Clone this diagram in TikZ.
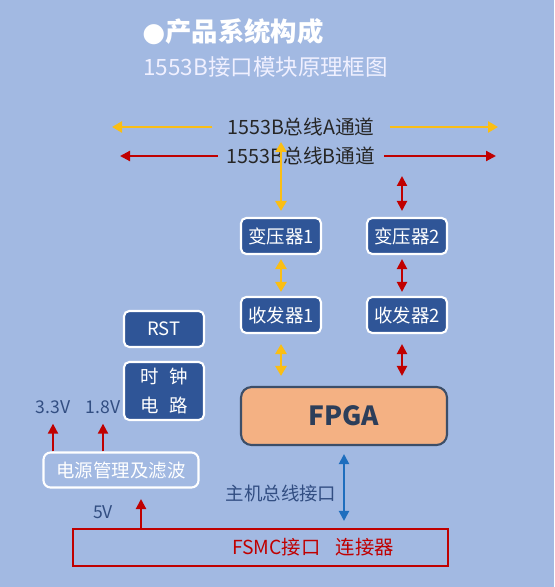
\documentclass[tikz,border=0pt]{standalone}
\usepackage{fontspec}
\setmainfont{Noto Sans CJK SC}
\newfontfamily\symfont{DejaVu Sans}
\usetikzlibrary{arrows.meta}
\definecolor{bgblue}{RGB}{162,185,226}
\definecolor{boxblue}{RGB}{47,85,151}
\definecolor{fpgafill}{RGB}{244,177,131}
\definecolor{fpgaline}{RGB}{60,78,104}
\definecolor{fpgatext}{RGB}{44,62,90}
\definecolor{labelblue}{RGB}{50,78,130}
\definecolor{busyellow}{RGB}{250,190,20}
\definecolor{busred}{RGB}{192,0,0}
\definecolor{hostblue}{RGB}{30,110,190}

\begin{document}
\begin{tikzpicture}[x=0.02cm,y=-0.02cm,
  blk/.style={draw=white,line width=1.2pt,fill=boxblue,rounded corners=3pt,text=white,
    font=\fontsize{10.5}{12}\selectfont,minimum width=1.6cm,minimum height=0.72cm,inner sep=1pt},
  lbl/.style={font=\fontsize{10}{12}\selectfont,text=labelblue,inner sep=1pt},
  bus/.style={font=\fontsize{11.2}{14}\selectfont,text=black!85,inner sep=0pt},
  yarr/.style={busyellow,line width=1.6pt,arrows={-Triangle[length=0.2cm,width=0.22cm]}},
  yarrs/.style={busyellow,line width=1.6pt,arrows={Triangle[length=0.2cm,width=0.22cm]-Triangle[length=0.2cm,width=0.22cm]}},
  rarr/.style={busred,line width=1.2pt,arrows={-Triangle[length=0.2cm,width=0.2cm]}},
  rarrs/.style={busred,line width=1.2pt,arrows={Triangle[length=0.2cm,width=0.2cm]-Triangle[length=0.2cm,width=0.2cm]}}]
\fill[bgblue] (0,0) rectangle (554,587);

\node[anchor=west,text=white,inner sep=0pt,font=\fontsize{15}{18}\selectfont\bfseries] (title) at (142,32) {{\symfont ●}产品系统构成};
\node[anchor=west,text=white!94!blue,inner sep=0pt,font=\fontsize{12.8}{15}\selectfont] (subtitle) at (143,67) {1553B接口模块原理框图};

\node[bus,outer xsep=0.3cm] (busA) at (301,127) {1553B总线A通道};
\node[bus,outer xsep=0.18cm] (busB) at (301,156) {1553B总线B通道};
\coordinate (aL) at (112,127);
\coordinate (aR) at (498,127);
\coordinate (bL) at (120,156);
\coordinate (bR) at (496,156);
\draw[yarr] (busA.west) -- (aL);
\draw[yarr] (busA.east) -- (aR);
\draw[rarr] (busB.west) -- (bL);
\draw[rarr] (busB.east) -- (bR);

\node[blk] (tr1) at (281,236) {变压器1};
\node[blk] (tr2) at (407,236) {变压器2};
\node[blk] (rx1) at (281,315) {收发器1};
\node[blk] (rx2) at (407,315) {收发器2};

\coordinate (aT) at (281,142);
\coordinate (bT) at (402,176);
\draw[yarrs,shorten >=0.12cm] (aT) -- (tr1.north);
\draw[rarrs,shorten >=0.12cm] (bT) -- (bT |- tr2.north);
\draw[yarrs,shorten <=0.08cm,shorten >=0.08cm] (tr1.south) -- (rx1.north);
\draw[rarrs,shorten <=0.08cm,shorten >=0.08cm] (tr2.south -| bT) -- (rx2.north -| bT);

\node[draw=fpgaline,line width=1.2pt,fill=fpgafill,rounded corners=6pt,minimum width=4.12cm,minimum height=1.16cm,
  text=fpgatext,font=\fontsize{15}{18}\selectfont\bfseries] (fpga) at (344,416) {FPGA};
\draw[yarrs,shorten <=0.2cm,shorten >=0.2cm] (rx1.south) -- (rx1.south |- fpga.north);
\draw[rarrs,shorten <=0.2cm,shorten >=0.2cm] (rx2.south -| bT) -- (fpga.north -| bT);

\node[blk] (rst) at (164,329) {RST};
\node[blk,minimum height=1.16cm,align=center,font=\fontsize{10.5}{16}\selectfont] (clk) at (164,391) {时\hspace{0.6em}钟\\电\hspace{0.6em}路};

\node[draw=white,line width=1.2pt,rounded corners=4pt,minimum width=3.1cm,minimum height=0.7cm,
  text=white,font=\fontsize{10.5}{12}\selectfont,inner sep=1pt] (pwr) at (121,470) {电源管理及滤波};
\node[lbl] (v33) at (53,407) {3.3V};
\node[lbl] (v18) at (103,407) {1.8V};
\draw[rarr,shorten >=0.16cm] (v33.south |- pwr.north) -- (v33.south);
\draw[rarr,shorten >=0.16cm] (v18.south |- pwr.north) -- (v18.south);

\node[draw=busred,line width=1.2pt,minimum width=7.5cm,minimum height=0.74cm,
  text=busred,font=\fontsize{11}{13}\selectfont,inner sep=0pt] (fsmc) at (260.5,547.5) {\hspace{2.1cm}FSMC接口\hspace{0.8em}连接器};
\node[lbl] (v5) at (103,512) {5V};
\coordinate (pIn) at (141,499);
\draw[rarr] (pIn |- fsmc.north) -- (pIn);

\node[lbl,font=\fontsize{10.5}{12}\selectfont,text=labelblue] (host) at (281,493) {主机总线接口};
\draw[hostblue,line width=1.2pt,arrows={Triangle[length=0.2cm,width=0.2cm]-Triangle[length=0.2cm,width=0.2cm]},
  shorten <=0.16cm,shorten >=0.14cm] (fpga.south) -- (fsmc.north -| fpga.south);
\end{tikzpicture}
\end{document}
